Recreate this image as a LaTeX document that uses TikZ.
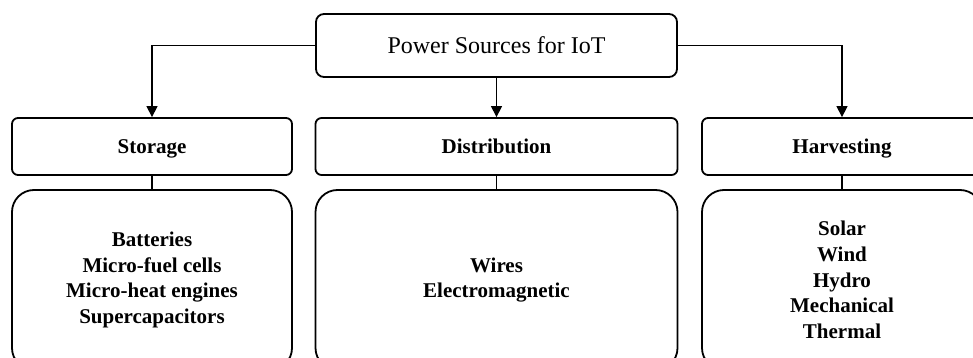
\documentclass[tikz,border=0pt]{standalone}
\usepackage{fontspec}
\setmainfont{Liberation Serif}
\usetikzlibrary{arrows.meta}

\tikzset{
  headbox/.style = {draw, line width = 1.8pt, rounded corners = 8pt,
    font = \fontsize{24}{29}\selectfont},
  groupbox/.style = {draw, line width = 1.8pt, rounded corners = 6pt,
    minimum height = 57pt, text height = 19pt, text depth = 5pt,
    font = \fontsize{21}{25.7}\selectfont\bfseries},
  listbox/.style = {draw, line width = 1.8pt, rounded corners = 22pt,
    minimum height = 180pt, align = center,
    font = \fontsize{21}{25.7}\selectfont\bfseries},
  link/.style = {line width = 1.3pt},
  feed/.style = {link, -{Triangle[length = 11pt, width = 11pt]}}
}

\begin{document}
\begin{tikzpicture}[x = 1pt, y = -1pt]
      \useasboundingbox (0.0, 0.0) rectangle (973.0, 358.0);
      \clip (0.0, 0.0) rectangle (973.0, 358.0);
      % top
      \node [headbox, minimum width = 361pt, minimum height = 63pt] (power) at (496.5, 45.5) {Power Sources for IoT};
      % middle row
      \node [groupbox, minimum width = 280pt] (storage) at (152.0, 146.5) {Storage};
      \node [groupbox, minimum width = 362pt] (distribution) at (496.5, 146.5) {Distribution};
      \node [groupbox, minimum width = 280pt] (harvesting) at (842.0, 146.5) {Harvesting};
      % bottom row
      \node [listbox, minimum width = 280pt] (storagelist) at (152.0, 280.0)
        {Batteries\\ Micro-fuel cells\\ Micro-heat engines\\ Supercapacitors};
      \node [listbox, minimum width = 362pt] (distributionlist) at (496.5, 280.0)
        {Wires\\ Electromagnetic};
      \node [listbox, minimum width = 280pt] (harvestinglist) at (842.0, 280.0)
        {Solar\\ Wind\\ Hydro\\ Mechanical\\ Thermal};
      % connectors
      \draw [feed] (power.west) -| (storage.north);
      \draw [feed] (power.south) -- (distribution.north);
      \draw [feed] (power.east) -| (harvesting.north);
      \draw [link] (storage.south) -- (storagelist.north);
      \draw [link] (distribution.south) -- (distributionlist.north);
      \draw [link] (harvesting.south) -- (harvestinglist.north);
    \end{tikzpicture}
\end{document}
